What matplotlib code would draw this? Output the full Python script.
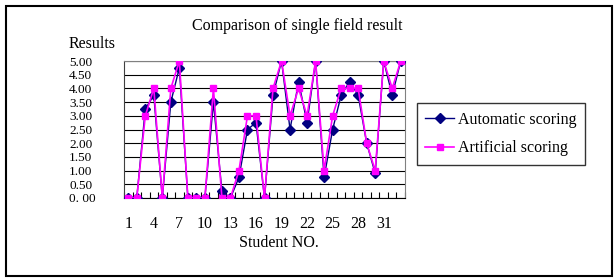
import matplotlib
matplotlib.use('Agg')
import matplotlib.pyplot as plt
from matplotlib.patches import Rectangle
import numpy as np

students = list(range(1, 34))
automatic = [0, 0, 3.25, 3.75, 0, 3.5, 4.75, 0, 0, 0, 3.5, 0.25, 0, 0.75, 2.5, 2.75, 0,
             3.75, 5, 2.5, 4.25, 2.75, 5, 0.75, 2.5, 3.75, 4.25, 3.75, 2.0, 0.9, 5, 3.75, 5]
artificial = [0, 0, 3, 4, 0, 4, 5, 0, 0, 0, 4, 0, 0, 1, 3, 3, 0,
              4, 5, 3, 4, 3, 5, 1, 3, 4, 4, 4, 2, 1, 5, 4, 5]
yticks = np.arange(0, 5.01, 0.5)
ylabels = ['0. 00'] + ['%.2f' % v for v in yticks[1:]]
xlabel_pos = list(range(1, 34, 3))

W, H = 615, 278
plt.rcParams['font.family'] = ['Liberation Serif', 'DejaVu Serif']
plt.rcParams['font.size'] = 11.5

fig = plt.figure(figsize=(W / 100, H / 100), dpi=100)
ax = fig.add_axes([124 / W, 1 - 198 / H, (405 - 124) / W, (198 - 61) / H])

ax.plot(students, automatic, color='#000080', lw=1, marker='D', markersize=4.6,
        label='Automatic scoring', zorder=3)
ax.plot(students, artificial, color='#ff00ff', lw=1.2, marker='s', markersize=4.6,
        label='Artificial scoring', zorder=4)

ax.set_xlim(0.5, 33.5)
ax.set_ylim(0, 5)
ax.set_yticks(yticks)
ax.set_yticklabels(ylabels, ha='left', fontsize=9.5)
ax.tick_params(axis='y', length=0, pad=55 * 0.72)
ax.yaxis.grid(True, color='black', lw=0.8)
ax.set_axisbelow(True)

ax.set_xticks(xlabel_pos)
ax.set_xticklabels([str(v) for v in xlabel_pos])
ax.set_xticks(np.arange(0.5, 34, 1), minor=True)
ax.tick_params(axis='x', which='major', length=0, pad=13)
ax.tick_params(axis='x', which='minor', direction='in', length=4, width=0.8)

for side in ['left', 'right', 'top']:
    ax.spines[side].set_color('#808080')
ax.spines['left'].set_color('#404040')
ax.spines['bottom'].set_color('black')

fig.text(297 / W, 1 - 26 / H, 'Comparison of single field result', ha='center', va='center')
fig.text(69 / W, 1 - 44 / H, 'Results', ha='left', va='center')
fig.text(279 / W, 1 - 243 / H, 'Student NO.', ha='center', va='center')

leg = fig.legend(loc='center', bbox_to_anchor=((417 + 585) / 2 / W, 1 - (102 + 166) / 2 / H),
                 frameon=True, fancybox=False, handlelength=1.8, handletextpad=0.25,
                 labelspacing=0.8, borderpad=0.55, borderaxespad=0)
leg.get_frame().set_edgecolor('black')
leg.get_frame().set_linewidth(1)

fig.patches.append(Rectangle((6 / W, 1 - 276 / H), (612 - 6) / W, (276 - 6) / H,
                             transform=fig.transFigure, fill=False, edgecolor='black', lw=1.5))

fig.savefig('out.png', dpi=100)
